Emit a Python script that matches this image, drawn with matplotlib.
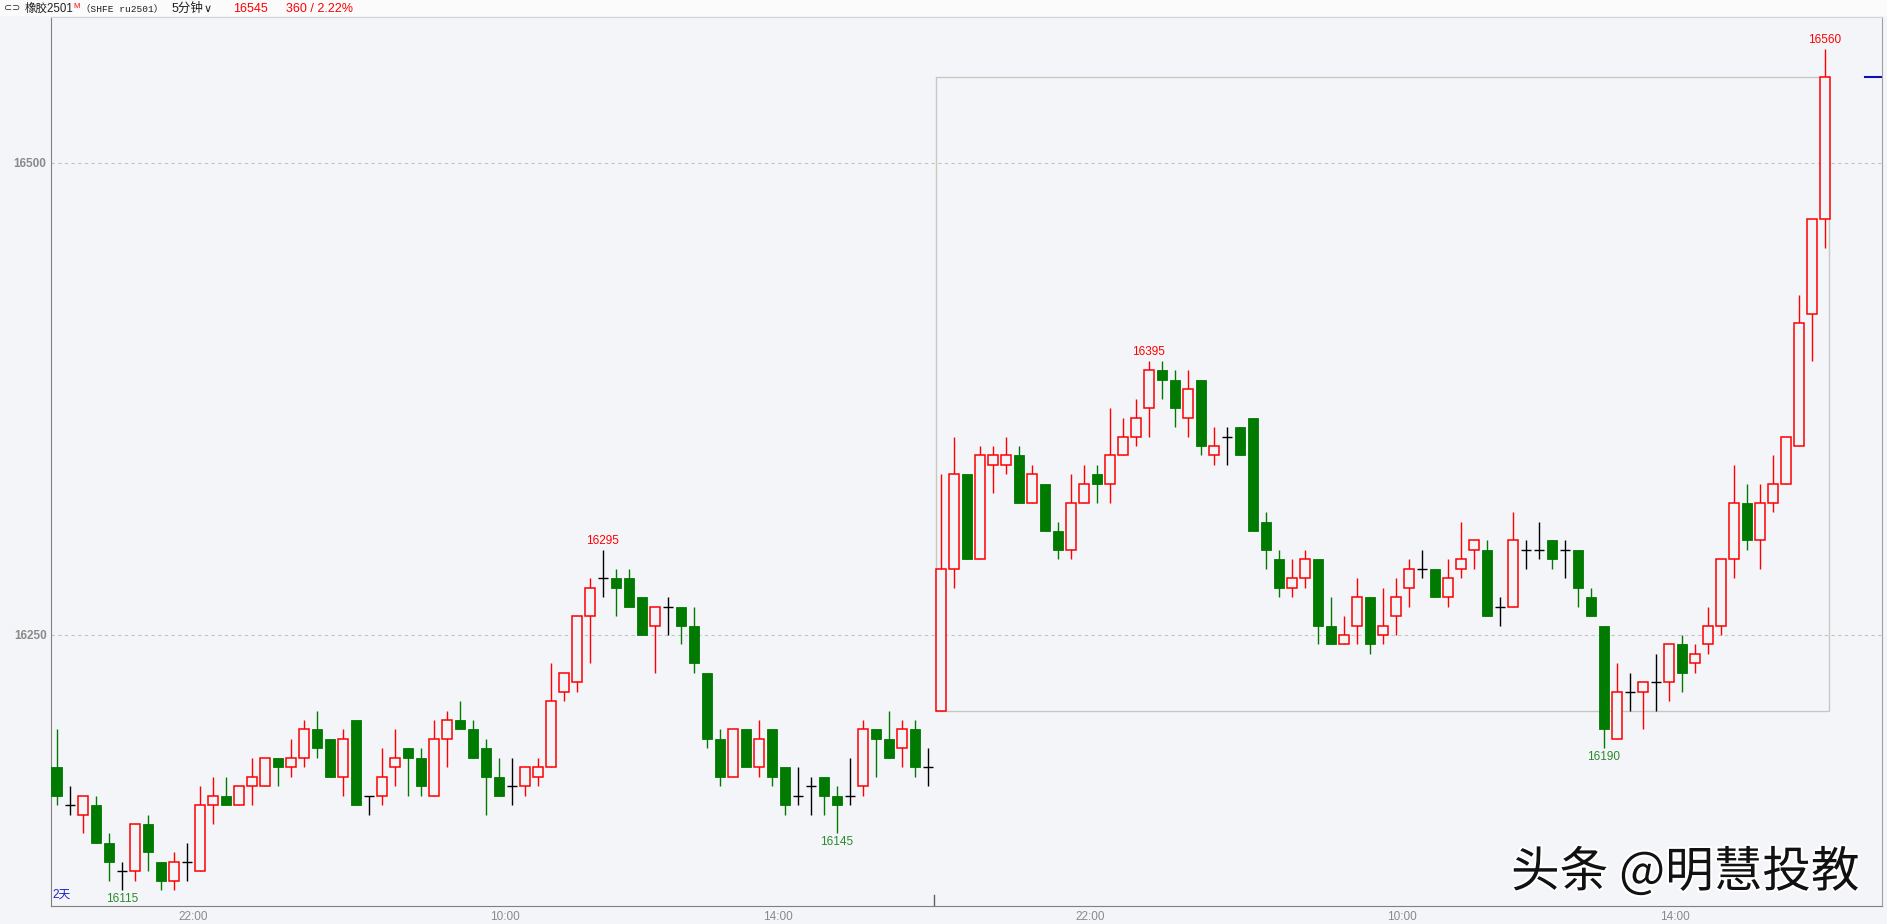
import matplotlib
matplotlib.use("Agg")
import matplotlib.pyplot as plt
import matplotlib.patheffects as pe
from matplotlib.patches import Rectangle
import numpy as np

plt.rcParams['font.family'] = ['Liberation Sans', 'Noto Sans CJK SC', 'DejaVu Sans']

# 5分钟 K线 (两个交易时段)
opens = [16180, 16160, 16155, 16160, 16140, 16125, 16125, 16150, 16130, 16120,
         16130, 16125, 16160, 16165, 16160, 16170, 16170, 16185, 16180, 16185,
         16200, 16195, 16175, 16205, 16165, 16165, 16180, 16190, 16185, 16165,
         16195, 16205, 16200, 16190, 16175, 16170, 16170, 16175, 16180, 16220,
         16225, 16260, 16280, 16280, 16280, 16270, 16255, 16265, 16265, 16255,
         16230, 16195, 16175, 16200, 16180, 16200, 16180, 16165, 16170, 16175,
         16165, 16165, 16170, 16200, 16195, 16190, 16200, 16180,
         16210, 16285, 16335, 16290, 16340, 16340, 16345, 16320, 16330, 16305,
         16295, 16320, 16335, 16330, 16345, 16355, 16370, 16390, 16385, 16365,
         16385, 16345, 16355, 16360, 16365, 16310, 16290, 16275, 16280, 16290,
         16255, 16245, 16255, 16270, 16250, 16260, 16275, 16285, 16285, 16270,
         16285, 16295, 16295, 16265, 16265, 16295, 16295, 16300, 16295, 16295,
         16270, 16255, 16195, 16220, 16220, 16225, 16225, 16245, 16235, 16245,
         16255, 16290, 16320, 16300, 16320, 16330, 16350, 16420, 16470]
highs = [16200, 16170, 16165, 16165, 16145, 16130, 16150, 16155, 16130, 16135,
         16140, 16170, 16175, 16175, 16170, 16185, 16185, 16185, 16195, 16205,
         16210, 16195, 16200, 16205, 16165, 16190, 16200, 16190, 16190, 16205,
         16210, 16215, 16205, 16195, 16185, 16185, 16180, 16185, 16235, 16230,
         16260, 16280, 16295, 16285, 16285, 16270, 16265, 16270, 16265, 16265,
         16230, 16200, 16200, 16200, 16205, 16200, 16180, 16180, 16175, 16175,
         16170, 16185, 16205, 16200, 16210, 16205, 16205, 16190,
         16335, 16355, 16335, 16350, 16350, 16355, 16350, 16340, 16330, 16310,
         16335, 16340, 16340, 16370, 16365, 16375, 16395, 16395, 16390, 16390,
         16385, 16360, 16360, 16360, 16365, 16315, 16295, 16290, 16295, 16290,
         16270, 16260, 16280, 16270, 16275, 16280, 16290, 16295, 16285, 16290,
         16310, 16300, 16300, 16270, 16315, 16300, 16310, 16300, 16300, 16295,
         16275, 16255, 16235, 16230, 16225, 16240, 16245, 16250, 16245, 16265,
         16290, 16340, 16330, 16330, 16345, 16355, 16430, 16470, 16560]
lows = [16160, 16155, 16145, 16140, 16120, 16115, 16120, 16125, 16115, 16115,
        16120, 16125, 16150, 16160, 16160, 16160, 16170, 16170, 16175, 16180,
        16185, 16175, 16165, 16160, 16155, 16160, 16170, 16165, 16165, 16165,
        16180, 16200, 16185, 16155, 16165, 16160, 16165, 16170, 16180, 16215,
        16220, 16235, 16270, 16260, 16265, 16250, 16230, 16250, 16245, 16230,
        16190, 16170, 16175, 16180, 16175, 16170, 16155, 16160, 16155, 16155,
        16145, 16160, 16165, 16175, 16185, 16180, 16175, 16170,
        16210, 16275, 16290, 16290, 16325, 16335, 16320, 16320, 16305, 16290,
        16290, 16320, 16320, 16320, 16345, 16350, 16355, 16375, 16360, 16355,
        16345, 16340, 16340, 16345, 16305, 16285, 16270, 16270, 16275, 16245,
        16245, 16245, 16245, 16240, 16245, 16250, 16265, 16280, 16270, 16265,
        16280, 16285, 16260, 16255, 16265, 16285, 16290, 16285, 16280, 16265,
        16260, 16190, 16195, 16210, 16200, 16210, 16215, 16220, 16230, 16240,
        16250, 16280, 16295, 16285, 16315, 16330, 16350, 16395, 16455]
closes = [16165, 16160, 16165, 16140, 16130, 16125, 16150, 16135, 16120, 16130,
          16130, 16160, 16165, 16160, 16170, 16175, 16185, 16180, 16185, 16200,
          16190, 16175, 16195, 16160, 16165, 16175, 16185, 16185, 16170, 16195,
          16205, 16200, 16185, 16175, 16165, 16170, 16180, 16180, 16215, 16230,
          16260, 16275, 16280, 16275, 16265, 16250, 16265, 16265, 16255, 16235,
          16195, 16175, 16200, 16180, 16195, 16175, 16160, 16165, 16170, 16165,
          16160, 16165, 16200, 16195, 16185, 16200, 16180, 16180,
          16285, 16335, 16290, 16345, 16345, 16345, 16320, 16335, 16305, 16295,
          16320, 16330, 16330, 16345, 16355, 16365, 16390, 16385, 16370, 16380,
          16350, 16350, 16355, 16345, 16305, 16295, 16275, 16280, 16290, 16255,
          16245, 16250, 16270, 16245, 16255, 16270, 16285, 16285, 16270, 16280,
          16290, 16300, 16260, 16265, 16300, 16295, 16295, 16290, 16295, 16275,
          16260, 16200, 16220, 16220, 16225, 16225, 16245, 16230, 16240, 16255,
          16290, 16320, 16300, 16320, 16330, 16355, 16415, 16470, 16545]

time_pos = [10.5, 34.5, 55.5, 79.5, 103.5, 124.5]
time_labels = ['22:00', '10:00', '14:00', '22:00', '10:00', '14:00']
price_ticks = [16250, 16500]
session_split = 67.5
box_open, box_last = 16210, 16545

# 极值标注: (K线序号, 价格, 高/低)
marks = [(5, 16115, 'low'), (42, 16295, 'high'), (60, 16145, 'low'),
         (84, 16395, 'high'), (119, 16190, 'low'), (136, 16560, 'high')]

bg = '#f4f5f9'
red = '#ff0000'
green = '#007a00'

fig = plt.figure(figsize=(18.87, 9.24), dpi=100, facecolor=bg)
ax = fig.add_axes([50.7 / 1887, 18 / 924, (1882 - 50.7) / 1887, 889 / 924])
ax.set_facecolor(bg)

o = np.array(opens); h = np.array(highs); l = np.array(lows); c = np.array(closes)
x = np.arange(len(o))
up = c > o
dn = c < o
dj = c == o
w = 0.8

# 影线
ax.vlines(x[up], l[up], h[up], color=red, lw=1.0, zorder=2)
ax.vlines(x[dn], l[dn], h[dn], color=green, lw=1.0, zorder=2)
ax.vlines(x[dj], l[dj], h[dj], color='black', lw=1.0, zorder=2)
# 实体
ax.bar(x[up], c[up] - o[up], bottom=o[up], width=w, facecolor=bg,
       edgecolor=red, lw=1.1, zorder=3)
ax.bar(x[dn], o[dn] - c[dn], bottom=c[dn], width=w, facecolor=green,
       edgecolor=green, lw=0.6, zorder=3)
ax.hlines(o[dj], x[dj] - w / 2, x[dj] + w / 2, color='black', lw=1.0, zorder=3)

for i, p, kind in marks:
    if kind == 'high':
        ax.annotate(str(p), (i, p), xytext=(0, 2), textcoords='offset points',
                    ha='center', va='bottom', color=red, fontsize=8.5)
    else:
        ax.annotate(str(p), (i, p), xytext=(0, -2), textcoords='offset points',
                    ha='center', va='top', color='#2a8a2a', fontsize=8.5)

# 本交易时段区间框
ax.add_patch(Rectangle((session_split + 0.15, box_open), len(o) - 1 + 0.35 - session_split - 0.15,
                       box_last - box_open, fill=False, edgecolor='#c8c8c0', lw=1.0, zorder=1))

ax.set_xlim(-0.4615, 140.4)
ax.set_ylim(16106.6, 16577.0)

for p in price_ticks:
    ax.axhline(p, color='#c4c4c4', lw=0.8, ls=(0, (3, 3)), zorder=0)
ax.axvline(session_split, 0, 0.012, color='#606060', lw=1.0)
ax.axhline(box_last, 0.9907, 1.0, color='#1010b0', lw=1.5)

ax.set_yticks(price_ticks)
ax.set_yticklabels([str(p) for p in price_ticks], fontweight='bold', color='#8a8a8a', fontsize=8.5)
ax.set_xticks(time_pos)
ax.set_xticklabels(time_labels, color='#8a8a8a', fontsize=8.5)
ax.tick_params(axis='y', length=0, pad=3)
ax.tick_params(axis='x', length=0, pad=3.5)

for s in ['left', 'bottom']:
    ax.spines[s].set_color('#808080')
ax.spines['top'].set_color('#d4d4d4')
ax.spines['right'].set_color('#a0a0a0')

ax.text(0.001, 0.006, '2天', transform=ax.transAxes, color='#2020c8', fontsize=8.5,
        ha='left', va='bottom')

# 顶部标题栏
fig.patches.append(Rectangle((0, 1 - 16 / 924), 1, 16 / 924, transform=fig.transFigure,
                             facecolor='#fbfbfb', edgecolor='none', zorder=0))
ty = 1 - 8.5 / 924
def top_text(px, s, size=9, **kw):
    fig.text(px / 1887, ty, s, va='center', ha='left', fontsize=size, **kw)

top_text(4, '⊂⊃', size=7, color='#303030', family='DejaVu Sans')
top_text(25, '橡胶2501', size=8.3, color='#202020')
fig.text(73.5 / 1887, 1 - 6 / 924, 'M', color=red, fontsize=5.5, va='center', ha='left')
top_text(81, '（SHFE ru2501）', size=6.8, color='#202020', family=['Liberation Mono', 'Noto Sans CJK SC'])
top_text(172, '5分钟', color='#202020')
top_text(204, '∨', size=8, color='#202020', family='DejaVu Sans')
top_text(233, '16545', color=red)
top_text(286, '360 / 2.22%', color=red)

# 水印
fig.text(1511 / 1887, 1 - 873 / 924, '头条 @明慧投教', fontsize=35, color='#111111',
         family=['Noto Sans CJK SC', 'DejaVu Sans'], ha='left', va='center',
         path_effects=[pe.withStroke(linewidth=3, foreground='white')])

fig.savefig('out.png', dpi=100, facecolor=bg)
